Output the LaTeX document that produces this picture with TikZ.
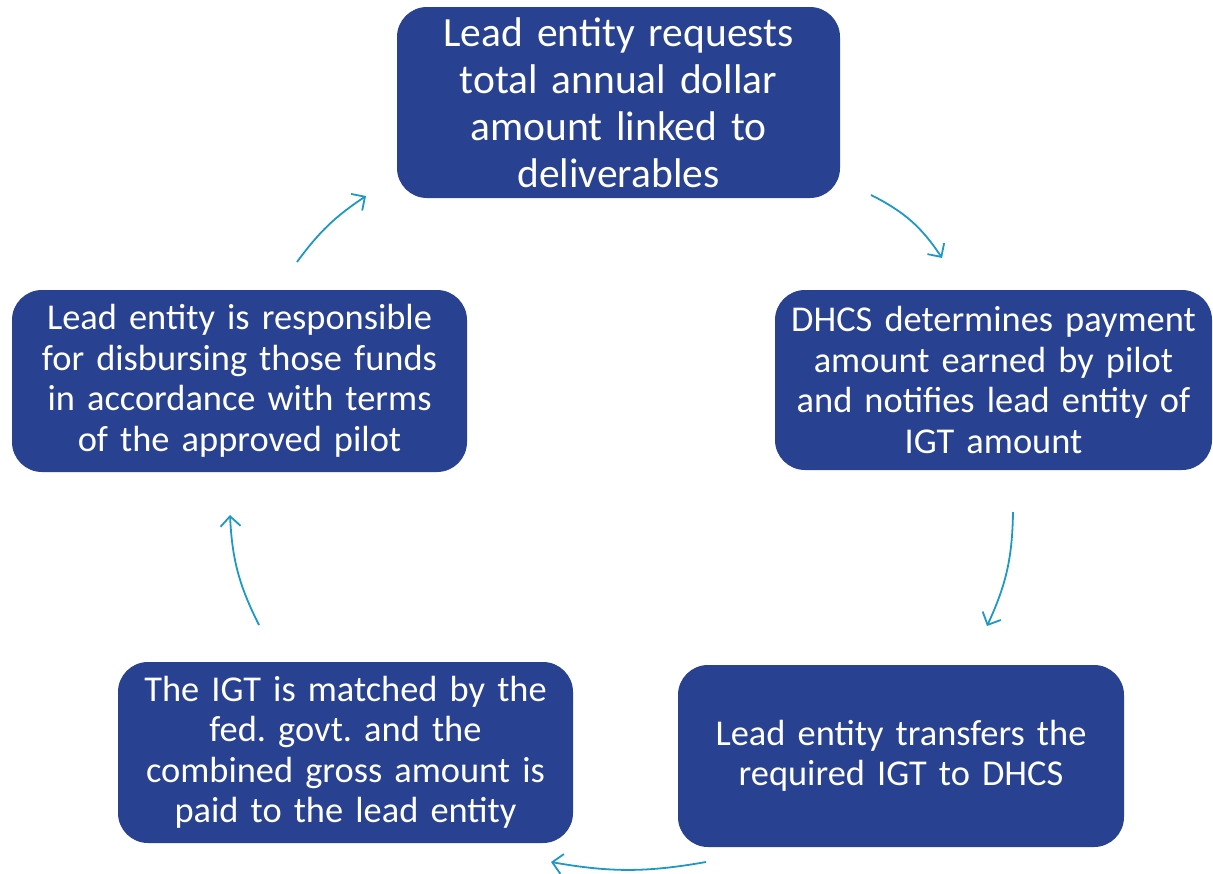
\documentclass[tikz,border=0pt]{standalone}
\usepackage{fontspec}
\setmainfont{Carlito}
\usetikzlibrary{arrows.meta}
\definecolor{boxblue}{RGB}{40,65,145}
\definecolor{arrowblue}{RGB}{30,152,196}
\tikzset{
  stepbox/.style={draw=none, fill=boxblue, text=white, rounded corners=30pt,
    align=center, inner sep=0pt, anchor=center},
  stepfont/.style={font=\fontsize{36.4}{40.5}\selectfont\frenchspacing},
  topfont/.style={font=\fontsize{41.5}{47}\selectfont\frenchspacing},
  cyc/.style={draw=arrowblue, line width=1.8pt,
    -{Straight Barb[length=10pt, width=20pt, line width=1.8pt]}}
}
\begin{document}
\begin{tikzpicture}[x=1pt, y=-1pt]
\useasboundingbox (0,0) rectangle (1213,873);
\node[stepbox, topfont, minimum width=443pt, minimum height=191pt, text width=443pt] (top) at (618.5,102.5)
  {Lead entity requests\\total annual dollar\\amount linked to\\deliverables};
\node[stepbox, stepfont, minimum width=437pt, minimum height=180pt, text width=437pt] (right) at (993.5,380)
  {DHCS determines payment\\amount earned by pilot\\and notifies lead entity of\\IGT amount};
\node[stepbox, stepfont, minimum width=446pt, minimum height=182pt, text width=446pt] (bright) at (901,756)
  {Lead entity transfers the\\required IGT to DHCS};
\node[stepbox, stepfont, minimum width=455pt, minimum height=181pt, text width=455pt] (bleft) at (345.5,752.5)
  {The IGT is matched by the\\fed. govt. and the\\combined gross amount is\\paid to the lead entity};
\node[stepbox, stepfont, minimum width=455pt, minimum height=182pt, text width=455pt] (left) at (239.5,381)
  {Lead entity is responsible\\for disbursing those funds\\in accordance with terms\\of the approved pilot};
\coordinate (a1s) at (871,195);
\coordinate (a1e) at (942,258);
\coordinate (a2s) at (1013,512);
\coordinate (a2e) at (987,626);
\coordinate (a3s) at (706,862);
\coordinate (a3e) at (551,862);
\coordinate (a4s) at (259,625);
\coordinate (a4e) at (230,515);
\coordinate (a5s) at (297,262);
\coordinate (a5e) at (366,196);
\draw[cyc] (a1s) to[bend left=15] (a1e);
\draw[cyc] (a2s) to[bend left=12] (a2e);
\draw[cyc] (a3s) to[bend left=10] (a3e);
\draw[cyc] (a4s) to[bend left=12] (a4e);
\draw[cyc] (a5s) to[bend left=10] (a5e);
\end{tikzpicture}
\end{document}
